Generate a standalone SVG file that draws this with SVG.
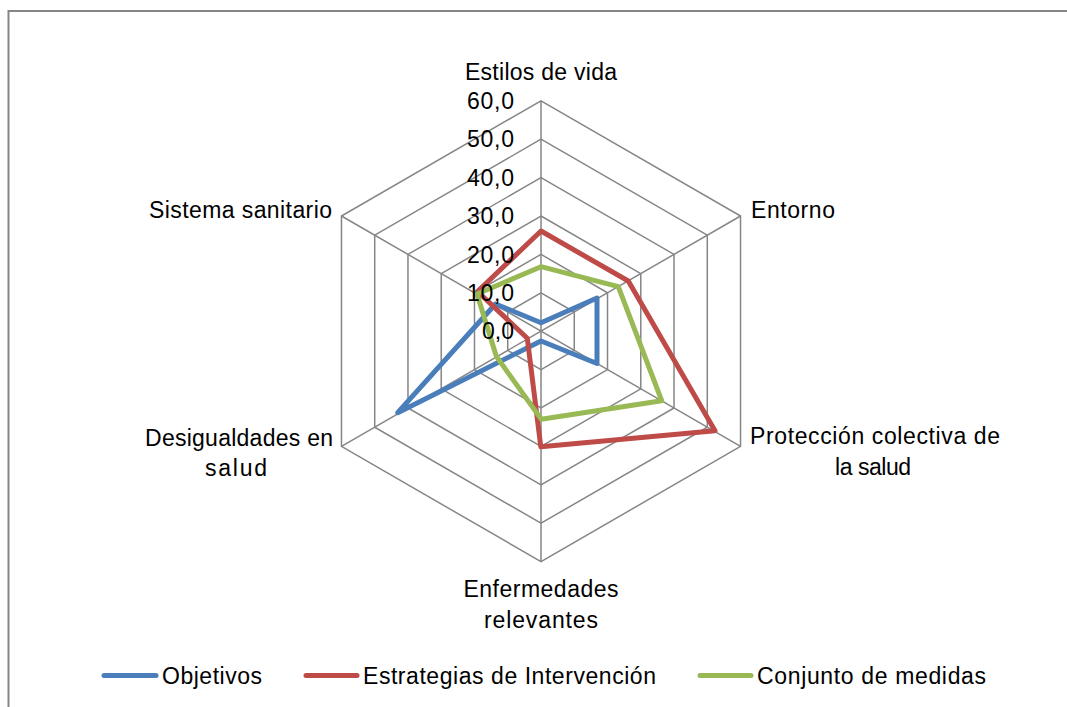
<svg xmlns="http://www.w3.org/2000/svg" width="1067" height="707" viewBox="0 0 1067 707">
<style>
.t{font-family:"Liberation Sans",Arial,sans-serif;font-size:23px;fill:#000}
.grid{fill:none;stroke:#868686;stroke-width:1.5}
.s{fill:none;stroke-width:5;stroke-linejoin:round;stroke-linecap:round}
.b{stroke:#4A7EBB}.r{stroke:#BE4B48}.g{stroke:#98B954}
</style>
<rect width="1067" height="707" fill="#fff"/>
<rect x="8.5" y="11" width="1070" height="710" fill="none" stroke="#868686" stroke-width="2"/>
<g id="grid" class="grid" transform="translate(541,331.2)">
<polygon points="0,-38.4 33.26,-19.2 33.26,19.2 0,38.4 -33.26,19.2 -33.26,-19.2"/>
<polygon points="0,-76.8 66.51,-38.4 66.51,38.4 0,76.8 -66.51,38.4 -66.51,-38.4"/>
<polygon points="0,-115.2 99.77,-57.6 99.77,57.6 0,115.2 -99.77,57.6 -99.77,-57.6"/>
<polygon points="0,-153.6 133.02,-76.8 133.02,76.8 0,153.6 -133.02,76.8 -133.02,-76.8"/>
<polygon points="0,-192 166.28,-96 166.28,96 0,192 -166.28,96 -166.28,-96"/>
<polygon points="0,-230.4 199.53,-115.2 199.53,115.2 0,230.4 -199.53,115.2 -199.53,-115.2"/>
<path d="M0,0V-230.4M0,0L199.53,-115.2M0,0L199.53,115.2M0,0V230.4M0,0L-199.53,115.2M0,0L-199.53,-115.2"/>
</g>
<g id="series">
<polygon id="objetivos" class="s b" points="541,322.7 597,298 597,363.5 541,341 397.7,412.7 495.5,304"/>
<polygon id="estrategias" class="s r" points="541,231 628.3,281 715,430.7 540.8,446.7 527.3,338.3 477.5,291.5"/>
<polygon id="conjunto" class="s g" points="541,266.7 618.3,286.7 661.7,400.7 541.3,419.3 496.3,356.3 477,294"/>
</g>
<g id="ticks" class="t" text-anchor="end">
<text x="514" y="109" textLength="47">60,0</text>
<text x="514" y="147.4" textLength="47">50,0</text>
<text x="514" y="185.8" textLength="47">40,0</text>
<text x="514" y="224.2" textLength="47">30,0</text>
<text x="514" y="262.6" textLength="47">20,0</text>
<text x="514" y="301" textLength="47">10,0</text>
<text x="514" y="339.4" textLength="32">0,0</text>
</g>
<g id="labels" class="t">
<text x="541" y="80" text-anchor="middle" textLength="152">Estilos de vida</text>
<text x="751" y="218" textLength="84">Entorno</text>
<text x="750" y="444" textLength="250">Protección colectiva de</text>
<text x="873" y="475" text-anchor="middle" textLength="76">la salud</text>
<text x="541" y="597" text-anchor="middle" textLength="155">Enfermedades</text>
<text x="541" y="628" text-anchor="middle" textLength="114">relevantes</text>
<text x="239" y="446" text-anchor="middle" textLength="188">Desigualdades en</text>
<text x="236" y="476" text-anchor="middle" textLength="62">salud</text>
<text x="332" y="218" text-anchor="end" textLength="183">Sistema sanitario</text>
</g>
<g id="legend">
<line class="s b" x1="104" y1="675.5" x2="156" y2="675.5"/>
<text class="t" x="162" y="683.5" textLength="100">Objetivos</text>
<line class="s r" x1="306" y1="675.5" x2="357" y2="675.5"/>
<text class="t" x="363" y="683.5" textLength="293">Estrategias de Intervención</text>
<line class="s g" x1="700" y1="675.5" x2="751" y2="675.5"/>
<text class="t" x="757" y="683.5" textLength="229">Conjunto de medidas</text>
</g>
</svg>
